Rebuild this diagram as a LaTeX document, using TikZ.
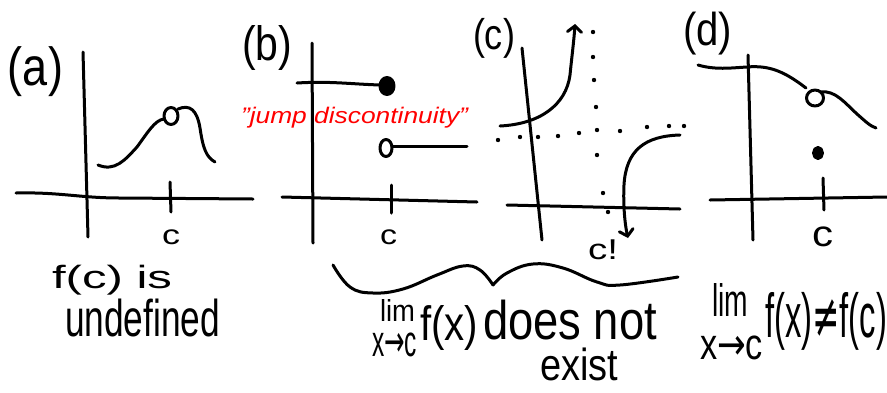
\documentclass[tikz,border=0pt]{standalone}
\usepackage{fontspec}
\usepackage{graphicx}
\setmainfont{Liberation Sans}
\newfontfamily\symfont{DejaVu Sans}
\usetikzlibrary{arrows.meta}
\newcommand{\fitbox}[3]{\resizebox*{#1pt}{#2pt}{#3}}
\begin{document}
\begin{tikzpicture}[x=1pt,y=-1pt,
  pen/.style={line width=3pt, line cap=round, line join=round},
  hand/.style={inner sep=0pt, outer sep=0pt, anchor=north west, font=\fontsize{30}{30}\selectfont},
  redhand/.style={hand, text=red, font=\fontsize{22}{22}\selectfont\itshape},
  tipend/.style={-{Straight Barb[length=6pt,width=14pt,line cap=round]}}]
\fill[white] (0,0) rectangle (887,392);
\useasboundingbox (0,0) rectangle (887,392);

% ---------- panel (a)
\node[hand] (la) at (8,47) {\fitbox{55}{50}{(a)}};
\draw[pen] (83,52) -- (88,237);
\draw[pen] (16,193) .. controls (60,192) and (80,198) .. (120,198) -- (253,199);
\draw[pen] (170,182) -- (171,212);
\node[hand] (ca) at (162,230) {\fitbox{18}{15}{c}};
\draw[pen] (98,165) .. controls (115,172) and (125,160) .. (137,147)
  .. controls (148,132) and (155,120) .. (164,119);
\draw[pen] (171,116) ellipse[x radius=7pt, y radius=8.5pt];
\draw[pen] (178,109) .. controls (190,104) and (197,110) .. (200,128)
  .. controls (203,148) and (206,157) .. (215,162);
\node[hand] (ta1) at (52,265) {\fitbox{120}{30}{f(c) is}};
\node[hand] (ta2) at (65,299) {\fitbox{155}{38}{undefined}};

% ---------- panel (b)
\node[hand] (lb) at (242,25) {\fitbox{50}{45}{(b)}};
\draw[pen] (312,43) -- (313,243);
\draw[pen] (282,197) -- (477,202);
\draw[pen] (391,185) -- (391,213);
\node[hand] (cb) at (380,230) {\fitbox{17}{15}{c}};
\draw[pen] (297,83) .. controls (330,81) and (350,84) .. (380,85);
\draw[pen, fill=black] (387,86) ellipse[x radius=7pt, y radius=8.5pt];
\draw[pen] (386,148) ellipse[x radius=6pt, y radius=8.5pt];
\draw[pen] (393,146) -- (467,146);
\node[redhand] (jump) at (241,107) {\fitbox{227}{21}{"jump discontinuity"}};

% ---------- panel (c)
\node[hand] (lc) at (473,18) {\fitbox{42}{40}{(c)}};
\draw[pen] (522,48) -- (542,240);
\draw[pen] (507,205) -- (680,209);
\foreach \p in {(593,32),(593,57),(594,80),(596,107),(597,130),(597,155),(603,193),(608,212),
  (498,140),(520,137),(538,137),(558,136),(579,133),(620,131),(647,127),(669,126),(684,126)}
  \fill \p circle[radius=2.2pt];
\draw[pen, tipend] (500,126) .. controls (540,124) and (566,105) .. (570,75)
  .. controls (572,55) and (574,40) .. (575,24);
\draw[pen, tipend] (680,135) .. controls (645,136) and (626,150) .. (624,185)
  .. controls (623,205) and (625,225) .. (628,238);
\node[hand] (cc) at (588,240) {\fitbox{30}{20}{c!}};

% ---------- panel (d)
\node[hand] (ld) at (683,12) {\fitbox{49}{43}{(d)}};
\draw[pen] (748,55) -- (753,240);
\draw[pen] (710,200) -- (887,197);
\draw[pen] (823,178) -- (824,210);
\node[hand] (cd) at (812,227) {\fitbox{21}{20}{c}};
\draw[pen] (698,65) .. controls (715,70) and (730,68) .. (747,67)
  .. controls (770,65) and (785,72) .. (806,88);
\draw[pen] (815,98) ellipse[x radius=8.5pt, y radius=8pt];
\draw[pen] (821,92) .. controls (835,90) and (845,103) .. (857,114)
  .. controls (865,121) and (870,126) .. (876,128);
\draw[pen, fill=black] (818,153) ellipse[x radius=4.5pt, y radius=5.5pt];
\node[hand] (limd) at (700,283) {\vbox{\offinterlineskip
  \hbox{\hspace*{12pt}\fitbox{36}{33}{lim}}\kern20pt
  \hbox{\fitbox{63}{24}{x{\symfont →}c}}}};
\node[hand] (fd) at (765,292) {\fitbox{122}{58}{f(x){\symfont ≠}f(c)}};

% ---------- brace and bottom text
\draw[pen] plot[smooth, tension=0.7] coordinates {(333,265) (350,287) (373,293) (403,289) (437,275) (463,266) (480,270) (493,285)};
\draw[pen] plot[smooth, tension=0.7] coordinates {(493,285) (507,273) (533,264) (563,268) (597,282) (620,285) (678,277)};
\node[hand] (limb) at (372,299) {\vbox{\offinterlineskip
  \hbox{\hspace*{8pt}\fitbox{35}{22}{lim}}\kern12pt
  \hbox{\fitbox{45}{24}{x{\symfont →}c}}}};
\node[hand] (fb) at (420,305) {\fitbox{58}{45}{f(x)}};
\node[hand] (dn) at (483,300) {\vbox{\offinterlineskip
  \hbox{\fitbox{174}{40}{does not}}\kern8pt
  \hbox{\hspace*{57pt}\fitbox{78}{33}{exist}}}};
\end{tikzpicture}
\end{document}
